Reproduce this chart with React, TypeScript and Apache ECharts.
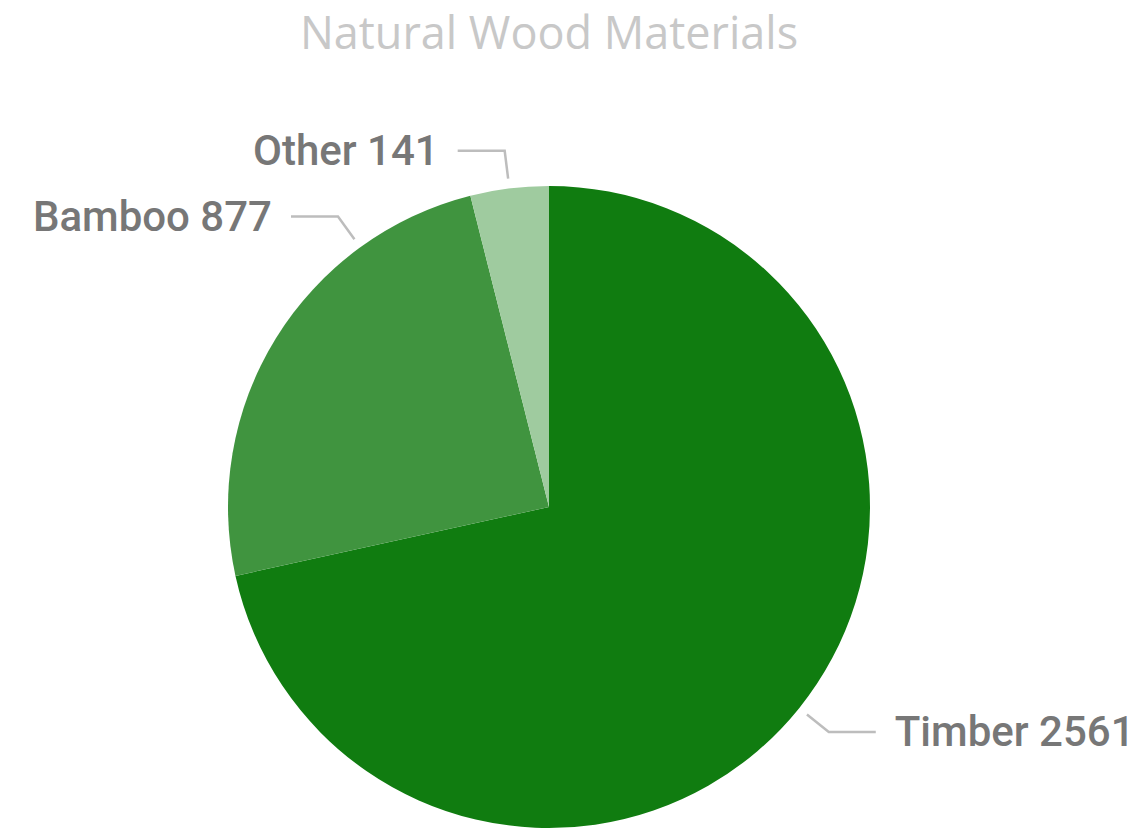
import React, { useEffect, useRef } from "react";
import * as echarts from "echarts";

const categories = ["Timber", "Bamboo", "Other"];
const values = [2561, 877, 141];
const colors = ["#107C10", "#40943F", "#9FCB9F"];
const titleText = "Natural Wood Materials";
// label anchor angle overrides (deg, clockwise from 12 o'clock); null = slice middle
const labelAnchorDeg: (number | null)[] = [null, -36, null];

const W = 1147;
const H = 832;
const CX = 549;
const CY = 507;
const R = 321;

export default function App() {
  const ref = useRef<HTMLDivElement>(null);
  useEffect(() => {
    if (!ref.current) return;
    const chart = echarts.init(ref.current, null, { renderer: "svg" });
    const total = values.reduce((a, b) => a + b, 0);
    const midAngles: number[] = [];
    let acc = 0;
    values.forEach((v) => {
      const span = (v / total) * 360;
      let m = acc + span / 2;
      if (m > 180) m -= 360;
      midAngles.push(m);
      acc += span;
    });
    chart.setOption({
      animation: false,
      graphic: [
        {
          type: "text",
          x: CX,
          y: 31,
          style: {
            text: titleText,
            textAlign: "center",
            textVerticalAlign: "middle",
            fill: "#c8c8c8",
            fontSize: 45,
            fontFamily: "Open Sans",
          },
        },
      ],
      series: [
        {
          type: "pie",
          center: [CX, CY],
          radius: R,
          startAngle: 90,
          clockwise: true,
          silent: true,
          label: { show: false },
          labelLine: { show: false },
          data: categories.map((c, i) => ({
            name: c,
            value: values[i],
            itemStyle: { color: colors[i] },
          })),
        },
        {
          type: "pie",
          center: [CX, CY],
          radius: R + 10,
          startAngle: 90,
          clockwise: true,
          silent: true,
          itemStyle: { color: "rgba(0,0,0,0)" },
          label: {
            show: true,
            formatter: "{b} {c}",
            color: "#777777",
            fontSize: 42,
            fontWeight: 500,
            fontFamily: "Roboto",
            overflow: "none",
            width: 400,
          },
          labelLine: {
            show: true,
            lineStyle: { color: "#bdbdbd", width: 2.5 },
          },
          labelLayout: (params: any) => {
            const i = params.dataIndex;
            const a = labelAnchorDeg[i] ?? midAngles[i];
            const rad = (a * Math.PI) / 180;
            const s = Math.sin(rad);
            const c = Math.cos(rad);
            const p0 = [CX + (R + 10) * s, CY - (R + 10) * c];
            const p1 = [CX + (R + 38) * s, CY - (R + 38) * c];
            const side = s >= 0 ? 1 : -1;
            const p2 = [p1[0] + side * 47, p1[1]];
            return {
              x: p2[0] + side * 19,
              y: p2[1],
              align: side > 0 ? "left" : "right",
              verticalAlign: "middle",
              labelLinePoints: [p0, p1, p2],
            };
          },
          data: categories.map((c, i) => ({ name: c, value: values[i] })),
        },
      ],
    });
    return () => chart.dispose();
  }, []);
  return (
    <div
      ref={ref}
      style={{ position: "fixed", left: 0, top: 0, width: W, height: H, background: "#fff" }}
    />
  );
}
